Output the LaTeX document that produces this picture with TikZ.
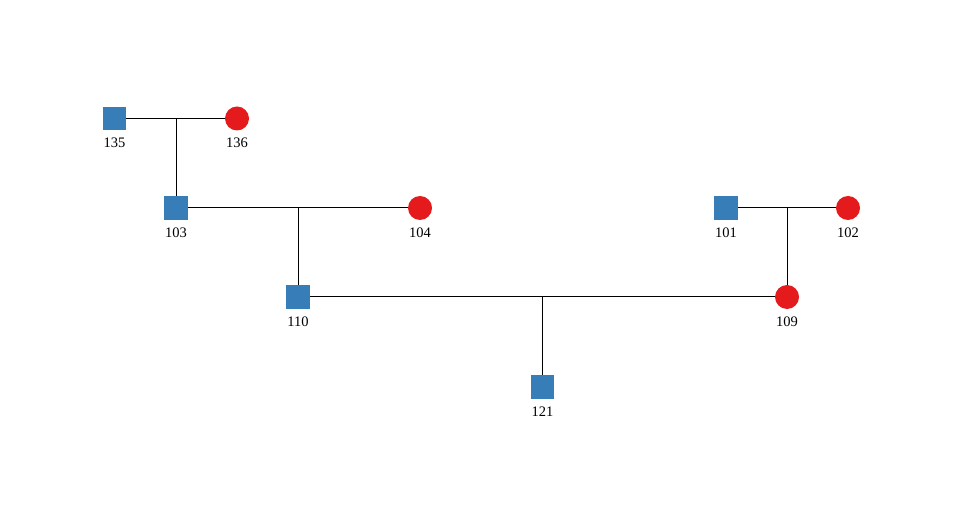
\documentclass[tikz,border=0pt]{standalone}
\usepackage{fontspec}
\setmainfont{Liberation Serif}
\definecolor{mblue}{HTML}{377EB8}
\definecolor{fred}{HTML}{E41A1C}
\tikzset{
  male/.style={rectangle, fill=mblue, minimum size=23.5pt, inner sep=0pt,
    label={[font=\fontsize{14.5}{16}\selectfont, label distance=4pt]below:#1}},
  female/.style={circle, fill=fred, minimum size=24pt, inner sep=0pt,
    label={[font=\fontsize{14.5}{16}\selectfont, label distance=4pt]below:#1}},
  link/.style={draw=black, line width=1pt}
}
\begin{document}
\begin{tikzpicture}[x=1pt, y=-1pt]
\useasboundingbox (0,0) rectangle (960,510);
\node[male=135] (n135) at (114.5,118.5) {};
\node[female=136] (n136) at (237,118.5) {};
\node[male=103] (n103) at (176,208) {};
\node[female=104] (n104) at (420,208) {};
\node[male=110] (n110) at (298,297) {};
\node[male=101] (n101) at (726,208) {};
\node[female=102] (n102) at (848,208) {};
\node[female=109] (n109) at (787,297) {};
\node[male=121] (n121) at (542.5,387) {};
\coordinate (j1) at (176,118.5);
\coordinate (j2) at (298,208);
\coordinate (j3) at (787,208);
\coordinate (j4) at (542.5,297);
\draw[link] (n135) -- (n136);
\draw[link] (j1) -- (n103);
\draw[link] (n103) -- (n104);
\draw[link] (j2) -- (n110);
\draw[link] (n101) -- (n102);
\draw[link] (j3) -- (n109);
\draw[link] (n110) -- (n109);
\draw[link] (j4) -- (n121);
\end{tikzpicture}
\end{document}
